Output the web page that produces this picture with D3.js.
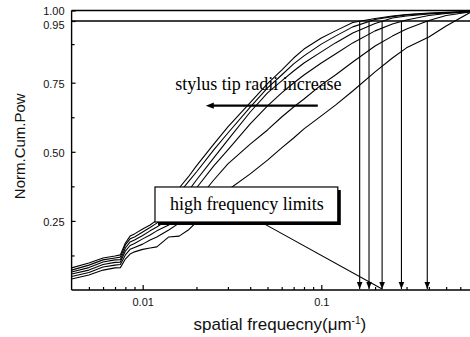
<!DOCTYPE html>
<meta charset="utf-8">
<style>
    body { margin: 0; background: #fff; }
    svg { display: block; }
    .tick text { font: 11px "Liberation Sans", Arial, sans-serif; fill: #111; }
    .tick line { stroke: #000; stroke-width: 1.2px; }
    .curve { fill: none; stroke: #000; stroke-width: 1.1px; stroke-linejoin: round; }
    .frame { stroke: #000; stroke-width: 1.4px; }
    .note { font: 18px "Liberation Serif", "Times New Roman", serif; fill: #000; }
    .title { font: 15px "Liberation Sans", Arial, sans-serif; fill: #111; }
</style>
<svg width="470" height="337"></svg>
<script src="https://d3js.org/d3.v7.min.js"></script>
<script>

    // spatial frequency nodes (um^-1)
    var freqs = [0.004, 0.005, 0.006, 0.007, 0.0075, 0.008, 0.0085, 0.009, 0.01, 0.011, 0.012,
        0.014, 0.016, 0.018, 0.02, 0.025, 0.03, 0.04, 0.05, 0.06, 0.07, 0.08, 0.1, 0.12,
        0.15, 0.2, 0.25, 0.3, 0.4, 0.5, 0.68];

    // normalised cumulative power, one array per stylus tip radius (smallest first)
    var curve1 = [0.080, 0.098, 0.116, 0.123, 0.127, 0.170, 0.195, 0.203, 0.221, 0.235, 0.253,
        0.308, 0.369, 0.409, 0.449, 0.528, 0.590, 0.678, 0.747, 0.791, 0.830, 0.859, 0.895, 0.918,
        0.945, 0.962, 0.974, 0.981, 0.988, 0.991, 0.996];
    var curve2 = [0.072, 0.090, 0.109, 0.116, 0.119, 0.163, 0.185, 0.192, 0.210, 0.226, 0.242,
        0.282, 0.351, 0.391, 0.427, 0.507, 0.568, 0.662, 0.731, 0.775, 0.811, 0.837, 0.875, 0.901,
        0.931, 0.957, 0.971, 0.979, 0.986, 0.989, 0.995];
    var curve3 = [0.065, 0.081, 0.101, 0.109, 0.110, 0.152, 0.174, 0.181, 0.197, 0.214, 0.228,
        0.257, 0.315, 0.358, 0.398, 0.478, 0.543, 0.644, 0.713, 0.756, 0.788, 0.814, 0.850, 0.879,
        0.911, 0.942, 0.964, 0.974, 0.983, 0.988, 0.995];
    var curve4 = [0.058, 0.072, 0.092, 0.100, 0.101, 0.141, 0.161, 0.168, 0.185, 0.199, 0.214,
        0.235, 0.275, 0.326, 0.369, 0.449, 0.507, 0.601, 0.666, 0.713, 0.749, 0.775, 0.814, 0.843,
        0.879, 0.918, 0.940, 0.955, 0.976, 0.986, 0.994];
    var curve5 = [0.049, 0.063, 0.083, 0.090, 0.092, 0.127, 0.147, 0.154, 0.166, 0.181, 0.192,
        0.217, 0.242, 0.279, 0.322, 0.398, 0.456, 0.528, 0.579, 0.626, 0.662, 0.691, 0.742, 0.775,
        0.817, 0.869, 0.901, 0.924, 0.952, 0.976, 0.993];
    var curve6 = [0.040, 0.054, 0.072, 0.080, 0.081, 0.112, 0.130, 0.138, 0.147, 0.152, 0.156,
        0.192, 0.195, 0.217, 0.246, 0.308, 0.362, 0.420, 0.470, 0.514, 0.550, 0.583, 0.630, 0.669,
        0.720, 0.785, 0.830, 0.863, 0.898, 0.934, 0.990];
    var curves = [curve1, curve2, curve3, curve4, curve5, curve6];

    // high frequency limits (where each curve passes 0.95)
    var limits = [0.164, 0.185, 0.219, 0.281, 0.392];
    var limitLevel = 0.95;

    var yTicks = [0.25, 0.50, 0.75, 0.95, 1.00];
    var yMinor = [0.125, 0.375, 0.625, 0.875];
    var xTicks = [0.01, 0.1];
    var xMinor = [0.005, 0.006, 0.007, 0.008, 0.009, 0.02, 0.03, 0.04, 0.05, 0.06, 0.07, 0.08, 0.09,
        0.2, 0.3, 0.4, 0.5, 0.6];

    var svg = d3.select("svg");

    var x = d3.scaleLog().domain([0.004, 0.68]).range([71.6, 470]);
    // the printed axis squeezes the top part (0.95 sits close under 1.00)
    var y = d3.scaleLinear().domain([0, 0.75, 0.95, 1.0]).range([290, 82.7, 21, 10.5]);

    var line = d3.line()
        .x(function (d) { return x(d[0]); })
        .y(function (d) { return y(d[1]); });

    // curves
    svg.append("g").selectAll("path")
        .data(curves)
        .enter().append("path")
        .attr("class", "curve")
        .attr("d", function (c) {
            return line(freqs.map(function (f, i) { return [f, c[i]]; }));
        });

    // frame: left, bottom, top, 0.95 level
    var x0 = x.range()[0], x1 = x.range()[1];
    svg.append("line").attr("class", "frame")
        .attr("x1", x0).attr("x2", x0).attr("y1", y(1.0)).attr("y2", y(0));
    svg.append("line").attr("class", "frame")
        .attr("x1", x0).attr("x2", x1).attr("y1", y(0)).attr("y2", y(0));
    svg.append("line").attr("class", "frame")
        .attr("x1", x0).attr("x2", x1).attr("y1", y(1.0)).attr("y2", y(1.0));
    svg.append("line").attr("class", "frame")
        .attr("x1", x0).attr("x2", x1).attr("y1", y(limitLevel)).attr("y2", y(limitLevel));

    // axes
    var yAxis = svg.append("g").attr("transform", "translate(" + x0 + ",0)")
        .call(d3.axisLeft(y).tickValues(yTicks).tickSize(-4).tickPadding(7).tickFormat(d3.format(".2f")));
    yAxis.select(".domain").remove();
    yAxis.selectAll(".tick text").attr("dy", function (d) {
        if (d === 1.0) return "0.4em";
        if (d === 0.95) return "0.64em";
        return "0.4em";
    });
    var yAxis2 = svg.append("g").attr("transform", "translate(" + x0 + ",0)")
        .call(d3.axisLeft(y).tickValues(yMinor).tickSize(-3).tickFormat(""));
    yAxis2.select(".domain").remove();

    var xAxis = svg.append("g").attr("transform", "translate(0," + y(0) + ")")
        .call(d3.axisBottom(x).tickValues(xTicks).tickSize(-5).tickPadding(8)
            .tickFormat(function (d) { return d === 0.01 ? "0.01" : "0.1"; }));
    xAxis.select(".domain").remove();
    var xAxis2 = svg.append("g").attr("transform", "translate(0," + y(0) + ")")
        .call(d3.axisBottom(x).tickValues(xMinor).tickSize(-3).tickFormat(""));
    xAxis2.select(".domain").remove();

    // axis titles
    svg.append("text").attr("class", "title")
        .attr("transform", "translate(25," + y(0.52) + ") rotate(-90)")
        .attr("text-anchor", "middle")
        .text("Norm.Cum.Pow");
    var xt = svg.append("text").attr("class", "title")
        .attr("x", x(0.0586)).attr("y", 330)
        .attr("text-anchor", "middle")
        .style("font-size", "17px");
    xt.append("tspan").text("spatial frequecny(\u03bcm");
    xt.append("tspan").attr("dy", -6).style("font-size", "10px").text("-1");
    xt.append("tspan").attr("dy", 6).text(")");

    // arrow heads
    var defs = svg.append("defs");
    defs.append("marker").attr("id", "head")
        .attr("viewBox", "0 0 10 10").attr("refX", 10).attr("refY", 5)
        .attr("markerWidth", 7).attr("markerHeight", 7).attr("markerUnits", "userSpaceOnUse")
        .attr("orient", "auto")
        .append("path").attr("d", "M0,1L10,5L0,9Z").attr("fill", "#000");
    defs.append("marker").attr("id", "headBig")
        .attr("viewBox", "0 0 10 10").attr("refX", 2).attr("refY", 5)
        .attr("markerWidth", 10).attr("markerHeight", 8).attr("markerUnits", "userSpaceOnUse")
        .attr("orient", "auto")
        .append("path").attr("d", "M0,1L10,5L0,9Z").attr("fill", "#000");

    // high frequency limit arrows
    svg.append("g").selectAll("line")
        .data(limits)
        .enter().append("line")
        .attr("x1", function (d) { return x(d); })
        .attr("x2", function (d) { return x(d); })
        .attr("y1", y(limitLevel))
        .attr("y2", y(0) - 1)
        .attr("stroke", "#000").attr("stroke-width", 1.1)
        .attr("marker-end", "url(#head)");

    // "stylus tip radii increase"
    svg.append("text").attr("class", "note")
        .attr("x", x(0.0152)).attr("y", y(0.724))
        .text("stylus tip radii increase");
    svg.append("line")
        .attr("x1", x(0.0956)).attr("x2", x(0.0245))
        .attr("y1", y(0.667)).attr("y2", y(0.667))
        .attr("stroke", "#000").attr("stroke-width", 2.4)
        .attr("marker-end", "url(#headBig)");

    // leader from the label box to a limit
    svg.append("line")
        .attr("x1", x(0.0471)).attr("y1", y(0.242))
        .attr("x2", x(limits[2])).attr("y2", y(0.004))
        .attr("stroke", "#000").attr("stroke-width", 1.1);

    // "high frequency limits" box with drop shadow
    var bx0 = x(0.01172), bx1 = x(0.1237), by0 = y(0.3727), by1 = y(0.246);
    svg.append("rect")
        .attr("x", bx0 + 3).attr("y", by0 + 3)
        .attr("width", bx1 - bx0).attr("height", by1 - by0)
        .attr("fill", "#000");
    svg.append("rect")
        .attr("x", bx0).attr("y", by0)
        .attr("width", bx1 - bx0).attr("height", by1 - by0)
        .attr("fill", "#fff").attr("stroke", "#000").attr("stroke-width", 1.2);
    svg.append("text").attr("class", "note")
        .attr("x", x(0.0142)).attr("y", y(0.2894))
        .text("high frequency limits");
</script>
